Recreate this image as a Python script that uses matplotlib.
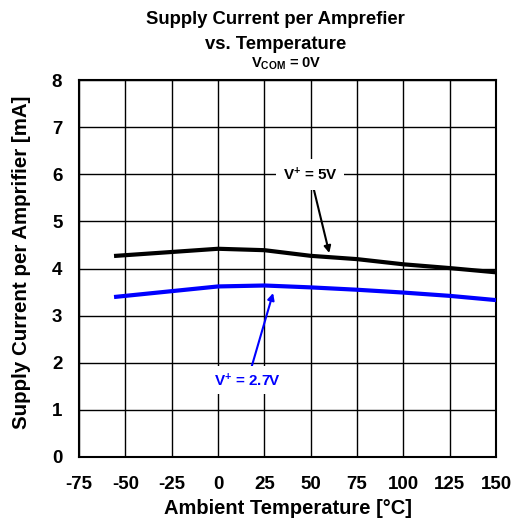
import matplotlib
matplotlib.use("Agg")
import matplotlib.pyplot as plt

plt.rcParams['font.family'] = ['Liberation Sans', 'DejaVu Sans']
plt.rcParams['font.weight'] = 'bold'
plt.rcParams['axes.unicode_minus'] = False
plt.rcParams['mathtext.fontset'] = 'custom'
plt.rcParams['mathtext.rm'] = 'Liberation Sans:bold'
plt.rcParams['mathtext.bf'] = 'Liberation Sans:bold'
plt.rcParams['mathtext.default'] = 'bf'

temp_5v = [-55, 0, 25, 50, 75, 100, 125, 150]
curr_5v = [4.27, 4.42, 4.39, 4.27, 4.20, 4.09, 4.01, 3.92]
temp_27v = [-55, 0, 25, 50, 75, 100, 125, 150]
curr_27v = [3.40, 3.62, 3.64, 3.60, 3.55, 3.49, 3.42, 3.33]

x_ticks = [-75, -50, -25, 0, 25, 50, 75, 100, 125, 150]
y_ticks = [0, 1, 2, 3, 4, 5, 6, 7, 8]

fig = plt.figure(figsize=(5.2, 5.24), dpi=100)
ax = fig.add_axes([0.152, 0.128, 0.802, 0.719])

ax.plot(temp_5v, curr_5v, color='black', lw=3, zorder=3)
ax.plot(temp_27v, curr_27v, color='#0000ff', lw=3, zorder=3)

ax.set_xlim(-75, 150)
ax.set_ylim(0, 8)
ax.set_xticks(x_ticks)
ax.set_yticks(y_ticks)
ax.tick_params(axis='both', length=0, labelsize=13.5)
ax.tick_params(axis='x', pad=14)
ax.tick_params(axis='y', pad=12)
for lab in ax.get_xticklabels() + ax.get_yticklabels():
    lab.set_fontweight('bold')
ax.grid(True, color='black', lw=1)
for s in ax.spines.values():
    s.set_linewidth(1.5)

ax.set_xlabel('Ambient Temperature [°C]', fontsize=14.5, fontweight='bold', labelpad=4)
ax.set_ylabel('Supply Current per Amprifier [mA]', fontsize=14.8, fontweight='bold')
ax.yaxis.set_label_coords(-0.115, 0.516)

fig.text(0.53, 0.963, 'Supply Current per Amprefier', ha='center', va='center', fontsize=13.3, fontweight='bold')
fig.text(0.53, 0.916, 'vs. Temperature', ha='center', va='center', fontsize=13.3, fontweight='bold')
fig.text(0.55, 0.879, r'V$_{\mathbf{COM}}$ = 0V', ha='center', va='center', fontsize=10.5, fontweight='bold')

ax.annotate('V$^{+}$ = 5V', xy=(60, 4.33), xytext=(49.7, 6.0), fontsize=11, fontweight='bold',
            ha='center', va='center', color='black',
            bbox=dict(boxstyle='square,pad=0.45', fc='white', ec='none'),
            arrowprops=dict(arrowstyle='-|>', color='black', lw=1.5, mutation_scale=10, shrinkA=0, shrinkB=0),
            zorder=5)
ax.annotate('V$^{+}$ = 2.7V', xy=(29.7, 3.48), xytext=(16, 1.63), fontsize=11, fontweight='bold',
            ha='center', va='center', color='#0000ff',
            bbox=dict(boxstyle='square,pad=0.35', fc='white', ec='none'),
            arrowprops=dict(arrowstyle='-|>', color='#0000ff', lw=1.5, mutation_scale=10, shrinkA=0, shrinkB=0),
            zorder=5)

fig.savefig('out.png', dpi=100)
